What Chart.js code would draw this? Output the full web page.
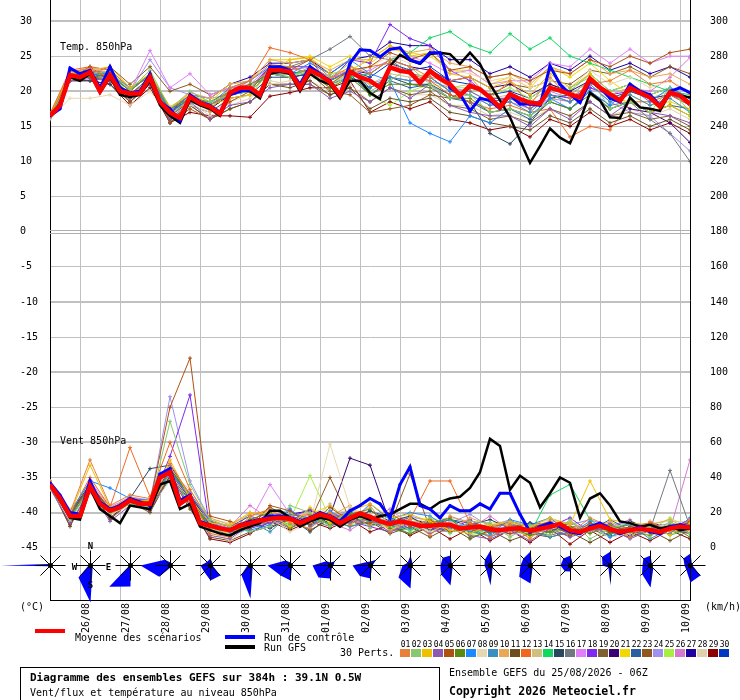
<!DOCTYPE html>
<html><head><meta charset="utf-8">
<script src="https://cdn.jsdelivr.net/npm/chart.js@4.4.1/dist/chart.umd.min.js"></script>
<style>
html,body{margin:0;padding:0;background:#fff;}
#wrap{position:relative;width:740px;height:700px;overflow:hidden;font-family:"DejaVu Sans Mono",monospace;color:#000;background:#fff;}
#cv{position:absolute;left:0;top:0;}
.t{position:absolute;white-space:pre;font-size:10px;line-height:11px;}
.b{font-weight:bold;}
.bar{position:absolute;height:4px;width:30px;}
.num{position:absolute;width:11px;text-align:center;font-size:8px;line-height:9px;top:640px;}
.sw{position:absolute;width:10px;height:8px;top:649px;}
#box{position:absolute;left:20px;top:667px;width:420px;height:40px;border:1px solid #000;box-sizing:border-box;}
</style></head>
<body>
<div id="wrap">
<canvas id="cv" width="740" height="660"></canvas>
<div class="t" style="left:20px;top:601px;">(°C)</div>
<div class="t" style="left:705px;top:601px;">(km/h)</div>
<div class="bar" style="left:35px;top:629px;background:#ff0000;"></div>
<div class="t" style="left:75px;top:632px;">Moyenne des scénarios</div>
<div class="bar" style="left:225px;top:635px;background:#0000ff;"></div>
<div class="t" style="left:264px;top:632px;">Run de contrôle</div>
<div class="bar" style="left:225px;top:645px;background:#000;"></div>
<div class="t" style="left:264px;top:642px;">Run GFS</div>
<div class="t" style="left:340px;top:647px;">30 Perts.</div>
<div id="legend"></div>
<div id="box"></div>
<div class="t b" style="left:30px;top:672px;font-size:11px;">Diagramme des ensembles GEFS sur 384h : 39.1N 0.5W</div>
<div class="t" style="left:30px;top:687px;">Vent/flux et température au niveau 850hPa</div>
<div class="t" style="left:449px;top:667px;">Ensemble GEFS du 25/08/2026 - 06Z</div>
<div class="t b" style="left:449px;top:686px;font-size:11.5px;">Copyright 2026 Meteociel.fr</div>
</div>
<script>
// ---------- time axes ----------
const H6 = [0,6,12,18,24,30,36,42,48,54,60,66,72,78,84,90,96,102,108,114,120,126,132,138,144,150,156,162,168,174,180,186,192,198,204,210,216,222,228,234,240,246,252,258,264,270,276,282,288,294,300,306,312,318,324,330,336,342,348,354,360,366,372,378,384];
const H12 = [0,12,24,36,48,60,72,84,96,108,120,132,144,156,168,180,192,204,216,228,240,252,264,276,288,300,312,324,336,348,360,372,384];
const DAY_HOURS = [18,42,66,90,114,138,162,186,210,234,258,282,306,330,354,378];
const DAY_LABELS = ['26/08','27/08','28/08','29/08','30/08','31/08','01/09','02/09','03/09','04/09','05/09','06/09','07/09','08/09','09/09','10/09'];
const TEMP_TICKS = [-45,-40,-35,-30,-25,-20,-15,-10,-5,0,5,10,15,20,25,30];
const KMH_TICKS = [0,20,40,60,80,100,120,140,160,180,200,220,240,260,280,300];

// ---------- main runs (6-hourly) ----------
const MEAN_T = [16.5,18.0,22.3,22.0,22.7,20.0,22.3,20.0,19.7,19.7,22.0,18.5,17.0,16.2,19.2,18.3,17.8,16.8,19.8,20.5,20.5,19.5,23.0,23.0,22.8,20.5,23.0,22.3,21.3,19.5,22.8,22.0,21.5,20.5,23.4,22.9,22.7,21.2,22.9,21.8,21.0,19.4,20.8,20.3,19.1,17.7,19.6,18.9,18.4,18.2,20.5,20.1,19.6,19.1,21.8,20.5,19.6,18.7,20.5,19.8,19.1,17.8,19.8,19.4,18.2];
const CTRL_T = [16.5,17.5,23.3,22.5,23.0,20.5,23.5,20.5,19.8,20.0,22.5,18.5,17.5,15.8,19.5,18.5,18.0,17.0,19.5,20.0,20.2,19.5,23.5,23.5,23.0,21.0,23.5,22.5,21.5,19.5,24.0,25.9,25.8,24.9,26.0,26.2,24.5,24.0,25.5,25.5,20.5,19.6,17.2,19.0,18.7,17.5,19.5,18.2,18.2,18.0,23.6,21.0,19.6,18.4,21.5,20.5,19.0,18.5,21.0,20.0,19.5,18.0,20.0,20.5,19.8];
const GFS_T = [16.5,17.8,22.0,21.5,22.5,19.8,22.0,19.5,19.2,19.5,21.5,18.0,16.5,15.5,18.8,18.0,17.5,16.5,19.5,20.2,20.0,19.0,22.5,22.8,22.5,20.0,22.5,21.5,21.0,19.0,21.5,21.5,19.8,18.9,23.6,25.2,24.4,23.9,25.3,25.5,25.3,23.9,25.5,23.9,21.0,18.7,16.3,13.0,9.8,12.2,14.7,13.4,12.6,15.8,19.8,18.7,16.3,16.2,19.1,17.7,17.5,17.2,19.8,19.4,19.1];
const MEAN_W = [36,28,18,18,35,25,21,23,27,25,25,40,43,25,29,14,12.5,11,10,12.5,14,15.5,16.5,17,16.5,14,16.5,19,17.5,14,17,19.5,17.5,15,13.5,15,14,12.5,12.5,13,13,11,11.5,12,10.5,10,10.8,11,9.7,10.8,12,13.5,10,9,11,12.5,10.5,9,10,10.8,10,9,11,12,11.5];
const CTRL_W = [37,30,20,19,38,26,22,24,28,26,24,42,45,27,30,15,13,11,10,13,15,16,18,18,17,15,17,20,18,15,21,24,28,25,17,36,46,24,22,17,24,21,21,25,22,31,31,19,9,12,14,12,9,8,12,14,11,8,10,12,9,8,12,13,12];
const GFS_W = [36,27,17,16,34,22,18,14,24,23,22,36,38,22,25,12,10,8,7,10,12,14,21,21,17,12,15,17,16,12,16,18,16,18,19,22,25,25,22,26,28,29,34,43,62,58,33,41,37,23,31,40,37,17,28,31,24,15,14,12,13,11,12,10,11];

// ---------- 30 perturbations, temperature 850 hPa (12-hourly) ----------
const T01=[16.8,22.8,23.2,22.0,19.5,21.5,16.5,18.8,17.2,20.5,21.5,23.8,23.5,22.5,21.8,23.5,22.5,24.5,23.5,22.0,21.5,22.0,19.0,21.5,18.0,22.0,19.0,21.0,21.5,23.0,21.0,21.5,19.5];
const T02=[16.4,21.8,22.5,22.8,20.2,23.0,17.5,20.0,18.5,19.5,20.0,22.5,22.0,23.5,22.0,24.0,20.0,21.5,23.5,21.0,19.0,19.5,17.0,17.5,16.5,18.5,20.5,22.0,17.5,18.5,17.0,20.5,17.0];
const T03=[16.6,22.5,23.0,23.5,20.5,22.5,17.8,19.5,18.0,19.0,19.5,22.8,24.5,24.8,22.5,23.0,24.5,26.5,25.0,25.5,22.5,22.0,20.5,21.5,19.5,22.5,20.5,22.5,19.0,18.5,17.0,18.0,16.5];
const T04=[16.3,21.5,21.8,21.5,19.0,21.0,16.0,18.5,16.0,18.0,18.5,20.5,21.0,21.0,19.0,20.0,18.5,20.5,19.0,21.0,18.0,17.0,16.5,16.5,15.0,17.5,16.0,18.5,16.5,18.5,17.0,16.5,15.5];
const T05=[16.5,21.8,23.5,21.5,18.5,21.5,15.5,17.5,16.0,18.5,20.0,23.5,23.0,24.5,21.0,23.0,23.5,25.5,24.5,25.5,23.0,23.5,22.0,22.5,21.5,23.0,22.5,24.5,23.5,25.0,24.0,25.5,26.0];
const T06=[16.5,22.0,22.0,22.5,20.0,22.5,17.5,19.0,18.5,20.0,21.0,22.5,23.5,22.5,20.5,22.0,19.5,21.0,21.0,20.5,19.0,19.0,17.0,17.5,16.5,18.5,17.5,19.5,17.5,18.5,17.0,18.0,16.5];
const T07=[16.6,22.3,22.5,22.5,20.5,22.0,17.2,19.5,18.2,20.5,21.5,23.5,22.5,24.0,22.5,24.5,22.5,21.5,15.5,14.0,12.8,16.5,15.5,17.5,16.5,19.0,17.5,20.0,18.0,20.5,18.5,20.5,19.0];
const T08=[16.0,19.0,19.0,19.5,18.0,20.0,16.5,18.0,17.0,18.5,19.5,21.0,21.5,22.0,21.0,22.5,23.5,25.0,24.0,25.0,23.0,22.5,21.5,22.0,20.5,21.5,20.5,23.0,21.0,22.0,20.5,21.5,20.0];
const T09=[16.4,22.0,22.5,22.0,19.5,21.5,16.8,19.0,18.0,19.5,20.0,22.5,22.5,23.0,21.5,23.0,20.5,22.0,21.5,22.0,20.0,19.5,18.0,18.5,17.0,19.5,18.5,21.0,18.5,19.5,18.0,19.0,17.0];
const T10=[16.7,22.5,23.0,22.8,20.0,22.5,17.5,19.8,19.0,21.0,21.5,24.5,24.0,24.5,23.0,24.5,24.5,26.5,25.5,26.0,24.0,23.5,22.0,22.5,21.0,23.5,22.5,24.5,22.5,23.0,22.0,22.5,21.0];
const T11=[16.5,22.0,22.0,21.8,19.0,21.5,16.0,18.0,16.0,17.5,18.5,21.0,20.5,21.5,19.5,20.5,17.5,19.0,18.5,19.0,17.0,16.5,15.5,15.0,14.5,16.5,15.5,17.5,15.5,16.5,15.0,16.0,14.5];
const T12=[16.8,23.0,23.5,23.0,20.5,22.0,17.5,19.5,18.0,20.0,21.5,26.2,25.5,24.5,22.0,22.5,23.5,24.0,22.5,21.5,19.5,18.5,17.5,18.0,17.0,17.5,13.5,15.0,14.5,18.5,18.5,19.5,18.0];
const T13=[16.5,22.5,23.5,23.0,20.5,22.0,17.5,19.0,18.0,19.5,20.5,23.0,22.0,23.0,20.5,22.5,21.0,22.5,22.0,22.5,20.5,21.0,19.0,19.5,18.5,20.5,19.5,21.5,19.5,20.5,19.0,20.0,18.5];
const T14=[16.3,22.0,22.5,22.5,20.0,22.5,16.5,19.0,17.5,20.0,20.5,22.5,22.5,22.5,21.0,22.0,22.5,24.5,25.5,27.6,28.5,26.5,25.5,28.2,26.0,27.6,25.0,24.0,23.0,22.0,21.0,20.0,19.5];
const T15=[16.2,21.5,21.5,21.0,18.5,21.0,15.5,18.0,17.0,19.0,19.5,22.0,22.0,22.5,21.0,22.0,20.5,22.0,21.0,21.0,19.5,18.5,14.0,12.5,15.5,19.0,19.5,21.5,19.0,20.0,19.0,19.5,18.0];
const T16=[16.5,22.0,22.0,22.3,19.5,22.0,17.0,19.0,18.0,19.8,20.5,23.0,23.5,24.5,26.0,27.8,25.0,24.5,22.5,22.0,20.0,20.0,18.5,19.0,17.5,19.5,18.5,20.0,18.0,18.5,16.0,14.0,10.0];
const T17=[16.7,22.5,23.5,22.5,20.0,25.8,20.5,22.5,19.5,20.5,21.0,23.5,23.0,23.5,22.0,22.5,23.0,24.5,25.0,24.0,22.5,23.0,21.0,21.5,21.5,24.0,23.5,26.0,24.0,26.0,24.0,25.0,25.0];
const T18=[16.5,22.5,23.0,22.5,20.0,22.5,17.0,19.5,18.0,20.0,20.5,23.5,23.5,23.5,21.5,24.5,24.0,29.5,27.5,26.5,23.0,21.5,19.0,19.0,18.0,19.5,19.0,20.5,19.5,20.0,19.0,19.5,18.5];
const T19=[16.4,21.8,22.0,21.5,18.5,21.0,15.8,18.0,16.0,17.5,18.5,21.0,21.0,21.0,19.5,20.5,18.5,20.5,19.5,20.0,18.0,17.5,16.0,16.5,15.5,17.5,16.5,18.5,16.5,17.0,16.0,16.5,15.0];
const T20=[16.5,22.0,22.5,22.0,19.5,22.0,17.0,19.0,17.5,19.5,20.0,22.5,22.5,23.0,21.5,23.0,22.5,24.5,23.5,23.0,21.5,22.0,20.5,21.0,19.5,21.0,20.0,21.5,19.5,17.5,17.0,15.5,12.7];
const T21=[16.6,22.5,23.0,22.5,20.0,22.5,17.5,19.5,18.5,21.0,21.5,24.5,24.5,25.0,23.5,25.0,24.0,26.0,25.5,25.0,23.0,23.0,21.0,22.0,20.5,23.5,22.0,24.0,21.5,19.5,18.0,18.5,17.5];
const T22=[16.4,22.0,22.5,22.0,19.5,21.5,16.5,18.5,17.5,19.5,20.0,22.5,22.0,22.5,21.0,22.5,19.5,21.5,20.5,21.0,19.0,18.5,17.0,17.5,16.0,18.5,17.5,20.0,17.5,18.5,17.0,18.0,17.5];
const T23=[16.5,22.0,22.5,23.5,21.0,23.5,20.0,21.0,19.5,20.5,20.5,22.5,22.0,22.5,20.0,19.5,17.0,17.5,18.0,19.5,19.0,20.5,19.5,21.0,20.5,21.5,21.0,23.0,22.5,23.5,22.0,23.5,22.5];
const T24=[16.5,22.3,22.5,22.5,20.0,24.5,20.5,19.5,19.0,19.5,20.5,22.5,22.0,22.5,21.0,22.0,21.0,22.0,21.5,21.5,20.5,20.0,18.5,19.0,17.5,20.0,19.0,21.0,18.5,17.0,16.5,14.0,11.5];
const T25=[16.5,22.3,22.5,22.5,19.5,21.5,16.5,18.5,17.5,19.5,20.0,22.5,22.5,23.0,21.5,22.5,19.5,18.0,20.0,21.0,20.5,20.5,19.5,20.5,19.0,21.0,20.0,22.5,20.0,21.0,19.5,20.5,19.0];
const T26=[16.6,22.5,22.8,22.5,20.0,22.5,17.2,19.5,18.0,20.0,20.5,23.0,23.0,23.5,22.0,23.0,20.5,22.0,21.5,22.0,20.0,19.5,18.0,18.5,17.5,19.0,18.5,20.5,19.5,20.5,20.0,22.0,24.8];
const T27=[16.5,22.3,23.0,22.5,20.0,22.5,17.0,19.5,19.0,21.0,22.0,24.0,24.0,24.5,22.5,24.5,25.0,27.0,26.5,26.5,24.5,24.5,22.5,23.5,22.0,24.0,23.0,25.0,23.0,24.0,22.5,23.5,22.0];
const T28=[16.5,22.0,22.5,21.5,19.0,21.0,16.5,18.5,16.5,18.0,19.0,21.5,21.0,21.5,20.0,21.0,18.5,20.5,19.5,19.5,18.0,18.0,16.5,17.0,16.0,17.5,16.5,18.5,16.5,17.5,16.5,17.5,16.0];
const T29=[16.3,21.5,21.5,21.0,18.0,20.5,15.5,17.0,16.5,16.5,16.3,19.3,19.8,20.5,20.5,21.5,17.0,18.5,17.5,18.5,16.0,15.5,14.5,15.0,13.5,16.0,15.0,17.0,15.0,16.0,14.5,15.5,14.0];
const T30=[16.5,22.5,23.0,22.5,20.0,22.5,17.0,19.0,18.0,19.5,20.5,23.0,22.5,23.0,21.5,23.0,22.0,24.0,23.0,23.5,21.5,21.0,19.5,20.0,19.0,21.0,20.0,22.5,20.0,21.0,19.5,20.5,19.0];

// ---------- 30 perturbations, wind speed 850 hPa in km/h (12-hourly) ----------
const W01=[38,20,50,24,30,28,48,30,8,6,18,22,14,11,20,13,24,9,16,7,18,14,6,13,5,15,8,17,12,6,15,9,16];
const W02=[35,16,33,19,25,24,72,36,16,12,9,12,24,20,12,22,11,19,9,17,8,15,14,6,13,7,16,5,11,14,6,15,8];
const W03=[37,19,47,23,26,27,50,28,14,13,20,19,12,23,14,21,25,17,19,15,10,8,13,15,12,17,13,38,16,14,13,7,14];
const W04=[34,14,32,15,24,22,40,25,7,5,13,14,16,15,19,15,16,9,14,8,13,7,5,10,4,11,6,10,11,5,10,12,8];
const W05=[36,18,36,22,28,26,80,108,18,15,11,24,21,13,23,15,14,20,12,16,9,13,12,8,11,15,7,14,9,12,14,10,15];
const W06=[37,19,34,21,26,25,45,30,10,7,16,20,11,18,13,19,22,11,8,14,17,6,9,12,7,9,12,8,13,9,7,13,6];
const W07=[35,20,38,34,28,27,42,31,15,9,10,13,22,12,21,14,25,16,20,18,11,14,8,16,13,17,8,15,6,12,9,8,17];
const W08=[33,15,31,19,24,23,38,26,9,4,12,17,9,14,59,23,18,10,15,9,14,12,11,7,9,13,11,12,6,8,12,13,9];
const W09=[36,18,35,20,27,24,44,28,12,11,15,9,19,17,16,12,15,13,11,14,16,9,7,13,10,6,9,13,11,13,5,11,13];
const W10=[38,21,37,22,29,26,46,30,17,13,19,21,15,20,18,24,13,18,12,16,10,17,13,14,12,15,14,10,15,9,13,16,10];
const W11=[35,12,34,16,26,20,41,22,6,4,9,12,16,10,16,12,15,8,12,6,12,5,10,4,8,6,9,3,9,6,10,4,10];
const W12=[37,19,40,23,57,29,60,33,15,12,16,20,18,19,19,17,18,14,16,38,38,14,12,13,11,13,12,11,12,11,10,12,11];
const W13=[36,18,34,21,27,25,43,29,11,8,17,15,20,14,25,13,19,12,17,11,15,10,14,9,12,10,15,9,13,11,8,14,12];
const W14=[34,17,33,20,25,23,39,27,9,10,12,18,13,16,14,19,15,12,10,13,17,8,11,10,8,30,36,16,8,10,13,7,11];
const W15=[37,20,36,22,28,45,47,30,13,6,14,11,17,9,18,16,21,15,18,10,12,13,16,11,14,10,12,11,7,15,11,12,9];
const W16=[36,18,35,21,27,25,43,29,12,6,14,16,11,16,12,17,13,13,8,12,9,11,6,11,9,7,10,11,6,10,10,44,12];
const W17=[38,20,38,23,29,27,46,31,14,11,15,36,19,18,19,18,18,15,15,13,14,12,11,12,10,13,11,12,11,11,11,12,13];
const W18=[35,17,34,20,26,24,52,87,10,7,11,14,17,22,13,15,12,9,13,11,10,16,9,8,10,12,17,9,14,8,10,11,16];
const W19=[36,19,36,21,27,25,44,29,13,10,14,23,17,13,17,20,18,14,11,15,13,9,12,14,10,9,7,11,10,14,9,10,8];
const W20=[37,18,35,22,27,26,43,28,12,11,15,16,17,16,18,51,47,14,13,12,14,11,10,11,10,12,11,12,10,11,10,11,12];
const W21=[35,18,36,20,26,24,42,29,11,9,13,18,14,19,24,15,16,11,14,17,12,13,10,12,6,14,9,13,8,12,11,9,10];
const W22=[36,19,34,21,27,25,43,30,15,12,18,14,21,15,20,14,21,17,13,12,16,14,11,15,12,11,14,10,16,10,12,13,14];
const W23=[34,17,33,19,25,23,41,27,11,9,13,15,15,15,40,16,16,13,42,11,12,10,10,10,9,11,9,10,9,9,9,10,11];
const W24=[37,19,36,22,28,26,86,38,16,8,20,17,22,12,18,21,17,14,18,15,14,19,12,16,9,14,13,16,12,15,11,14,12];
const W25=[36,18,35,21,27,25,44,29,10,8,14,16,16,41,17,13,15,11,14,9,13,7,10,11,8,12,6,14,10,8,10,17,11];
const W26=[35,18,34,20,26,24,42,28,9,12,24,16,12,17,14,10,17,22,13,10,9,11,18,10,7,11,10,13,12,16,8,10,50];
const W27=[37,19,36,22,28,26,45,30,14,11,12,17,19,21,18,18,13,14,17,13,16,12,9,12,14,13,8,12,11,7,14,12,9];
const W28=[36,22,35,24,27,28,43,33,16,14,18,20,19,21,20,21,20,18,17,16,17,15,14,15,13,16,14,15,14,13,14,15,15];
const W29=[35,13,33,17,26,21,41,24,5,3,8,15,10,15,11,16,9,13,7,12,5,11,4,10,3,11,2,10,3,9,4,10,5];
const W30=[37,19,36,22,28,26,44,30,13,11,15,17,17,17,18,17,18,14,15,13,13,12,11,11,10,12,10,11,11,10,11,11,12];

const MEMBERS_T=[T01,T02,T03,T04,T05,T06,T07,T08,T09,T10,T11,T12,T13,T14,T15,T16,T17,T18,T19,T20,T21,T22,T23,T24,T25,T26,T27,T28,T29,T30];
const MEMBERS_W=[W01,W02,W03,W04,W05,W06,W07,W08,W09,W10,W11,W12,W13,W14,W15,W16,W17,W18,W19,W20,W21,W22,W23,W24,W25,W26,W27,W28,W29,W30];
const MEMBER_LABELS=['01','02','03','04','05','06','07','08','09','10','11','12','13','14','15','16','17','18','19','20','21','22','23','24','25','26','27','28','29','30'];
const MEMBER_COLORS=['#e8803a','#88c870','#f0c000','#8c58b0','#b05010','#5a8a10','#1e88ff','#e8d8b0','#3a8ec0','#e8a858','#6a5020','#f06820','#d0c080','#10d860','#284860','#707880','#e080f8','#8028f0','#806030','#380070','#f0d800','#2860a0','#905820','#a090f0','#a8f040','#d878d0','#2000a0','#e0d0b0','#8b0000','#0038c0'];

// ---------- wind direction roses (% of members, one rose per day at 06Z) ----------
const ROSE_HOURS=[0,24,48,72,96,120,144,168,192,216,240,264,288,312,336,360,384];
const ROSE_N =[0,4,0,6,14,2,6,6,8,20,20,30,28,20,28,20,24];
const ROSE_NE=[0,0,0,4,6,0,2,12,16,6,4,6,4,6,4,4,4];
const ROSE_E =[0,0,0,2,4,2,2,6,4,2,2,4,2,4,2,2,4];
const ROSE_SE=[0,6,0,0,28,6,4,4,4,4,6,6,6,4,4,8,28];
const ROSE_S =[0,74,42,4,30,66,30,26,26,46,40,40,36,12,40,44,34];
const ROSE_SW=[2,34,60,32,18,26,28,34,30,34,26,12,32,16,6,24,12];
const ROSE_W =[100,4,2,60,20,6,46,36,36,16,20,12,20,20,16,16,12];
const ROSE_NW=[4,0,0,16,10,2,14,12,10,8,22,16,20,20,24,20,20];

// ---------- legend swatches (HTML text) ----------
const leg=document.getElementById('legend');
MEMBER_LABELS.forEach((lab,i)=>{
  const n=document.createElement('div');n.className='num';n.style.left=(400+11*i)+'px';n.textContent=lab;leg.appendChild(n);
  const s=document.createElement('div');s.className='sw';s.style.left=(400+11*i)+'px';s.style.background=MEMBER_COLORS[i];leg.appendChild(s);
});

// ---------- chart ----------
const pts=(hours,vals)=>hours.map((h,i)=>({x:h,y:vals[i]}));
const datasets=[
  {data:pts(H6,MEAN_T),yAxisID:'y',borderColor:'#ff0000',borderWidth:4.5,pointRadius:0},
  {data:pts(H6,MEAN_W),yAxisID:'y2',borderColor:'#ff0000',borderWidth:4.5,pointRadius:0},
  {data:pts(H6,CTRL_T),yAxisID:'y',borderColor:'#0000ff',backgroundColor:'#0000ff',borderWidth:3,pointRadius:1.5,pointBorderWidth:0},
  {data:pts(H6,CTRL_W),yAxisID:'y2',borderColor:'#0000ff',backgroundColor:'#0000ff',borderWidth:3,pointRadius:1.5,pointBorderWidth:0},
  {data:pts(H6,GFS_T),yAxisID:'y',borderColor:'#000000',borderWidth:2.5,pointRadius:0},
  {data:pts(H6,GFS_W),yAxisID:'y2',borderColor:'#000000',borderWidth:2.5,pointRadius:0}
];
MEMBERS_T.forEach((arr,i)=>{
  const c=MEMBER_COLORS[i];
  datasets.push({data:pts(H12,arr),yAxisID:'y',borderColor:c,backgroundColor:c,borderWidth:1,pointStyle:'cross',pointRadius:2,pointBorderWidth:1});
  datasets.push({data:pts(H12,MEMBERS_W[i]),yAxisID:'y2',borderColor:c,backgroundColor:c,borderWidth:1,pointStyle:'cross',pointRadius:2,pointBorderWidth:1});
});

const overlay={
  id:'overlay',
  afterLayout(chart){
    // plot area reaches the very top of the picture
    const a=chart.chartArea;
    if(a.top>0){
      a.top=0;a.height=a.bottom-a.top;
      ['y','y2'].forEach(id=>{const s=chart.scales[id];s.top=0;s.height=s.bottom;s.configure();});
    }
  },
  beforeDatasetsDraw(chart){
    const {ctx,chartArea:a,scales:{y}}=chart;
    const y0=Math.round(y.getPixelForValue(0));
    ctx.save();ctx.strokeStyle='#b0b0b0';ctx.lineWidth=1;
    ctx.beginPath();ctx.moveTo(a.left,y0-1.5);ctx.lineTo(a.right,y0-1.5);ctx.moveTo(a.left,y0+1.5);ctx.lineTo(a.right,y0+1.5);ctx.stroke();
    ctx.restore();
  },
  afterDraw(chart){
    const {ctx,chartArea:a,scales:{x,y}}=chart;
    ctx.save();
    ctx.font='10px "DejaVu Sans Mono"';ctx.fillStyle='#000';ctx.textBaseline='middle';ctx.textAlign='left';
    ctx.fillText('Temp. 850hPa',a.left+10,y.getPixelForValue(26.3));
    ctx.fillText('Vent 850hPa',a.left+10,y.getPixelForValue(-29.8));
    const cy=Math.round(y.getPixelForValue(-47.5))+0.5;
    ROSE_HOURS.forEach((h,i)=>{
      const cx=Math.round(x.getPixelForValue(h))+0.5;
      const r=[ROSE_N[i],ROSE_NE[i],ROSE_E[i],ROSE_SE[i],ROSE_S[i],ROSE_SW[i],ROSE_W[i],ROSE_NW[i]];
      ctx.beginPath();
      r.forEach((v,k)=>{const ang=k*Math.PI/4;const px=cx+Math.sin(ang)*v*0.5;const py=cy-Math.cos(ang)*v*0.5;if(k===0)ctx.moveTo(px,py);else ctx.lineTo(px,py);});
      ctx.closePath();ctx.fillStyle='#0000ff';ctx.fill();
      ctx.strokeStyle='#000';ctx.lineWidth=1;ctx.beginPath();
      ctx.moveTo(cx-15,cy);ctx.lineTo(cx+15,cy);ctx.moveTo(cx,cy-15);ctx.lineTo(cx,cy+15);
      ctx.moveTo(cx-10,cy-10);ctx.lineTo(cx+10,cy+10);ctx.moveTo(cx-10,cy+10);ctx.lineTo(cx+10,cy-10);
      ctx.stroke();
      ctx.beginPath();ctx.arc(cx,cy,2.5,0,Math.PI*2);ctx.fillStyle='#000';ctx.fill();
      if(i===1){
        ctx.font='bold 9px "DejaVu Sans Mono"';ctx.textAlign='center';
        ctx.fillText('N',cx,cy-19);ctx.fillText('S',cx,cy+20);ctx.fillText('W',cx-16,cy+2);ctx.fillText('E',cx+18,cy+2);
      }
    });
    ctx.restore();
  }
};

Chart.defaults.font.family='"DejaVu Sans Mono", monospace';
Chart.defaults.font.size=10;
Chart.defaults.color='#000';
new Chart(document.getElementById('cv'),{
  type:'line',
  data:{datasets},
  options:{
    responsive:false,animation:false,devicePixelRatio:1,
    layout:{padding:{left:20,right:0,top:0,bottom:0}},
    plugins:{legend:{display:false},tooltip:{enabled:false}},
    elements:{line:{tension:0,fill:false},point:{hitRadius:0}},
    scales:{
      x:{type:'linear',min:0,max:384,
        afterBuildTicks:s=>{s.ticks=DAY_HOURS.map(v=>({value:v}));},
        afterFit:s=>{s.height=60;s.paddingLeft=0;s.paddingRight=0;},
        ticks:{autoSkip:false,minRotation:90,maxRotation:90,padding:3,labelOffset:6,callback:(v,i)=>DAY_LABELS[i]},
        grid:{color:'#c0c0c0',lineWidth:1,drawTicks:false},
        border:{display:true,color:'#000',width:1}},
      y:{type:'linear',position:'left',min:-52.45,max:33,
        afterBuildTicks:s=>{s.ticks=TEMP_TICKS.map(v=>({value:v}));},
        afterFit:s=>{s.width=30;s.paddingTop=0;s.paddingBottom=0;},
        ticks:{crossAlign:'far',autoSkip:false},
        grid:{drawTicks:false,
          color:c=>(c.tick&&c.tick.value===0)?'rgba(0,0,0,0)':'#c0c0c0',
          lineWidth:c=>(c.tick&&c.tick.value%10===0)?2:1},
        border:{display:true,color:'#000',width:1}},
      y2:{type:'linear',position:'right',min:-29.8,max:312,
        afterBuildTicks:s=>{s.ticks=KMH_TICKS.map(v=>({value:v}));},
        afterFit:s=>{s.width=50;s.paddingTop=0;s.paddingBottom=0;},
        ticks:{padding:20,autoSkip:false},
        grid:{display:false,drawTicks:false},
        border:{display:true,color:'#000',width:1}}
    }
  },
  plugins:[overlay]
});
</script>
</body></html>
